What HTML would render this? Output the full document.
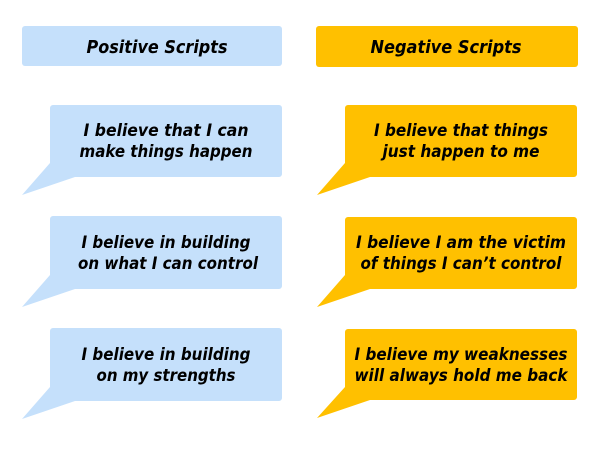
<!DOCTYPE html>
<html><head><style>body{margin:0;background:#fff}svg{display:block}</style></head>
<body>
<svg width="600" height="450" viewBox="0 0 600 450" xmlns="http://www.w3.org/2000/svg" font-family="DejaVu Sans, Verdana, sans-serif" font-weight="bold" font-style="italic" font-size="17" fill="#000">
<rect x="22" y="26" width="260" height="40" rx="3" fill="#c5e0fb"/>
<rect x="316" y="26" width="262" height="41" rx="3" fill="#ffc000"/>
<text x="157" y="53" text-anchor="middle" textLength="141" lengthAdjust="spacingAndGlyphs" font-size="17.5">Positive Scripts</text>
<text x="446" y="53" text-anchor="middle" textLength="151" lengthAdjust="spacingAndGlyphs" font-size="17.5">Negative Scripts</text>
<g fill="#c5e0fb">
<path d="M53,105H279a3,3 0 0 1 3,3V174a3,3 0 0 1-3,3H75L22,195L50,163V108a3,3 0 0 1 3-3Z"/>
<path d="M53,216H279a3,3 0 0 1 3,3V286a3,3 0 0 1-3,3H75L22,307L50,275V219a3,3 0 0 1 3-3Z"/>
<path d="M53,328H279a3,3 0 0 1 3,3V398a3,3 0 0 1-3,3H75L22,419L50,387V331a3,3 0 0 1 3-3Z"/>
</g>
<g fill="#ffc000">
<path d="M348,105H574a3,3 0 0 1 3,3V174a3,3 0 0 1-3,3H370L317,195L345,163V108a3,3 0 0 1 3-3Z"/>
<path d="M348,217H574a3,3 0 0 1 3,3V286a3,3 0 0 1-3,3H370L317,307L345,275V220a3,3 0 0 1 3-3Z"/>
<path d="M348,329H574a3,3 0 0 1 3,3V397a3,3 0 0 1-3,3H370L317,418L345,387V332a3,3 0 0 1 3-3Z"/>
</g>
<g text-anchor="middle">
<text x="166" y="136" textLength="165" lengthAdjust="spacingAndGlyphs">I believe that I can</text>
<text x="166" y="157" textLength="173" lengthAdjust="spacingAndGlyphs">make things happen</text>
<text x="166" y="248" textLength="169" lengthAdjust="spacingAndGlyphs">I believe in building</text>
<text x="168" y="269" textLength="180" lengthAdjust="spacingAndGlyphs">on what I can control</text>
<text x="166" y="360" textLength="169" lengthAdjust="spacingAndGlyphs">I believe in building</text>
<text x="166" y="381" textLength="139" lengthAdjust="spacingAndGlyphs">on my strengths</text>
<text x="461" y="136" textLength="174" lengthAdjust="spacingAndGlyphs">I believe that things</text>
<text x="461" y="157" textLength="157" lengthAdjust="spacingAndGlyphs">just happen to me</text>
<text x="461" y="248" textLength="210" lengthAdjust="spacingAndGlyphs">I believe I am the victim</text>
<text x="461" y="269" textLength="201" lengthAdjust="spacingAndGlyphs">of things I can’t control</text>
<text x="461" y="360" textLength="213" lengthAdjust="spacingAndGlyphs">I believe my weaknesses</text>
<text x="461" y="381" textLength="213" lengthAdjust="spacingAndGlyphs">will always hold me back</text>
</g>
</svg>
</body></html>
